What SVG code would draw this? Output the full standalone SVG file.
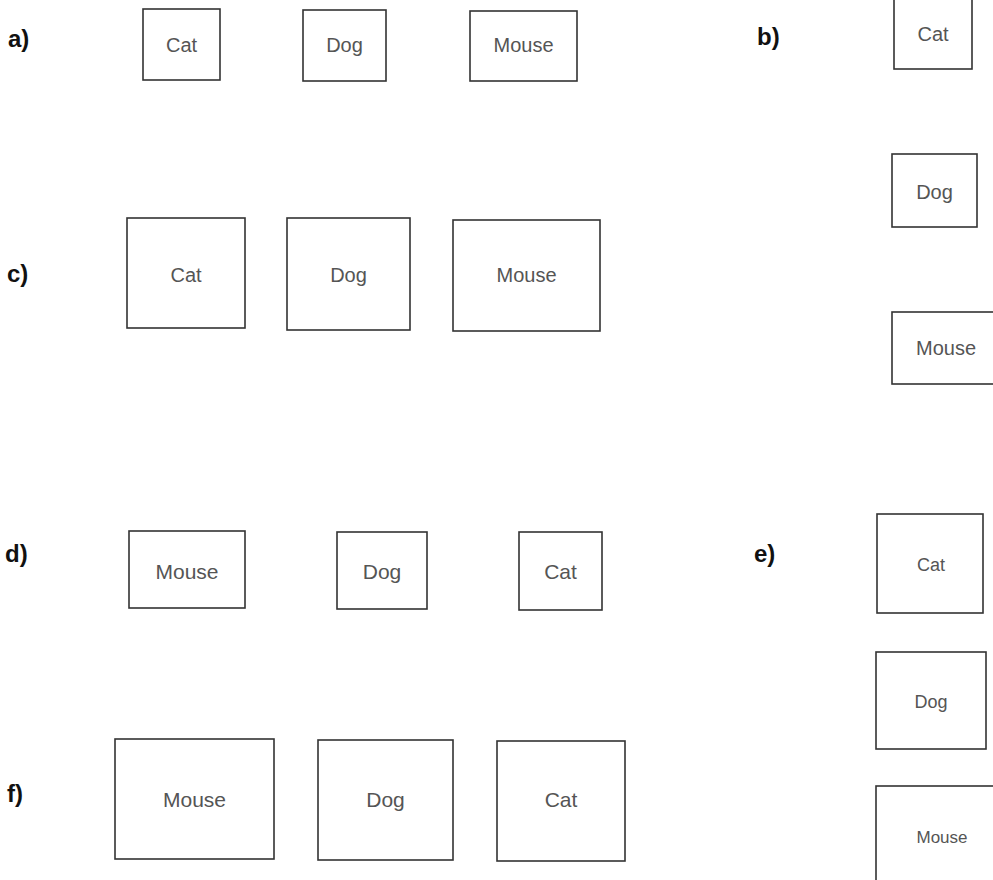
<svg xmlns="http://www.w3.org/2000/svg" width="993" height="880" viewBox="0 0 993 880">
<style>
.bx{fill:#fff;stroke:#333;stroke-width:1.6}
.t{font-family:"Liberation Sans",Arial,sans-serif;fill:#555;text-anchor:middle;font-size:20px}
.lb{font-family:"Liberation Sans",Arial,sans-serif;fill:#111;font-size:24px;font-weight:bold}
</style>
<rect width="993" height="880" fill="#fff"/>
<g id="labels">
<text class="lb" x="8" y="47">a)</text>
<text class="lb" x="757" y="45">b)</text>
<text class="lb" x="7" y="282">c)</text>
<text class="lb" x="5" y="562">d)</text>
<text class="lb" x="754" y="562">e)</text>
<text class="lb" x="7" y="802">f)</text>
</g>
<g id="a-cat"><rect class="bx" x="143" y="9" width="77" height="71"/><text class="t" x="181.5" y="52">Cat</text></g>
<g id="a-dog"><rect class="bx" x="303" y="10" width="83" height="71"/><text class="t" x="344.5" y="52">Dog</text></g>
<g id="a-mouse"><rect class="bx" x="470" y="11" width="107" height="70"/><text class="t" x="523.5" y="52">Mouse</text></g>
<g id="b-cat"><rect class="bx" x="894" y="-3" width="78" height="72"/><text class="t" x="933" y="41">Cat</text></g>
<g id="b-dog"><rect class="bx" x="892" y="154" width="85" height="73"/><text class="t" x="934.5" y="199">Dog</text></g>
<g id="b-mouse"><rect class="bx" x="892" y="312" width="110" height="72"/><text class="t" x="946" y="355">Mouse</text></g>
<g id="c-cat"><rect class="bx" x="127" y="218" width="118" height="110"/><text class="t" x="186" y="282">Cat</text></g>
<g id="c-dog"><rect class="bx" x="287" y="218" width="123" height="112"/><text class="t" x="348.5" y="282">Dog</text></g>
<g id="c-mouse"><rect class="bx" x="453" y="220" width="147" height="111"/><text class="t" x="526.5" y="282">Mouse</text></g>
<g id="d-mouse"><rect class="bx" x="129" y="531" width="116" height="77"/><text class="t" x="187" y="579" style="font-size:21px">Mouse</text></g>
<g id="d-dog"><rect class="bx" x="337" y="532" width="90" height="77"/><text class="t" x="382" y="579" style="font-size:21px">Dog</text></g>
<g id="d-cat"><rect class="bx" x="519" y="532" width="83" height="78"/><text class="t" x="560.5" y="579" style="font-size:21px">Cat</text></g>
<g id="e-cat"><rect class="bx" x="877" y="514" width="106" height="99"/><text class="t" x="931" y="571" style="font-size:18px">Cat</text></g>
<g id="e-dog"><rect class="bx" x="876" y="652" width="110" height="97"/><text class="t" x="931" y="708" style="font-size:18px">Dog</text></g>
<g id="e-mouse"><rect class="bx" x="876" y="786" width="124" height="104"/><text class="t" x="942" y="843" style="font-size:17px">Mouse</text></g>
<g id="f-mouse"><rect class="bx" x="115" y="739" width="159" height="120"/><text class="t" x="194.5" y="807" style="font-size:21px">Mouse</text></g>
<g id="f-dog"><rect class="bx" x="318" y="740" width="135" height="120"/><text class="t" x="385.5" y="807" style="font-size:21px">Dog</text></g>
<g id="f-cat"><rect class="bx" x="497" y="741" width="128" height="120"/><text class="t" x="561" y="807" style="font-size:21px">Cat</text></g>
</svg>
